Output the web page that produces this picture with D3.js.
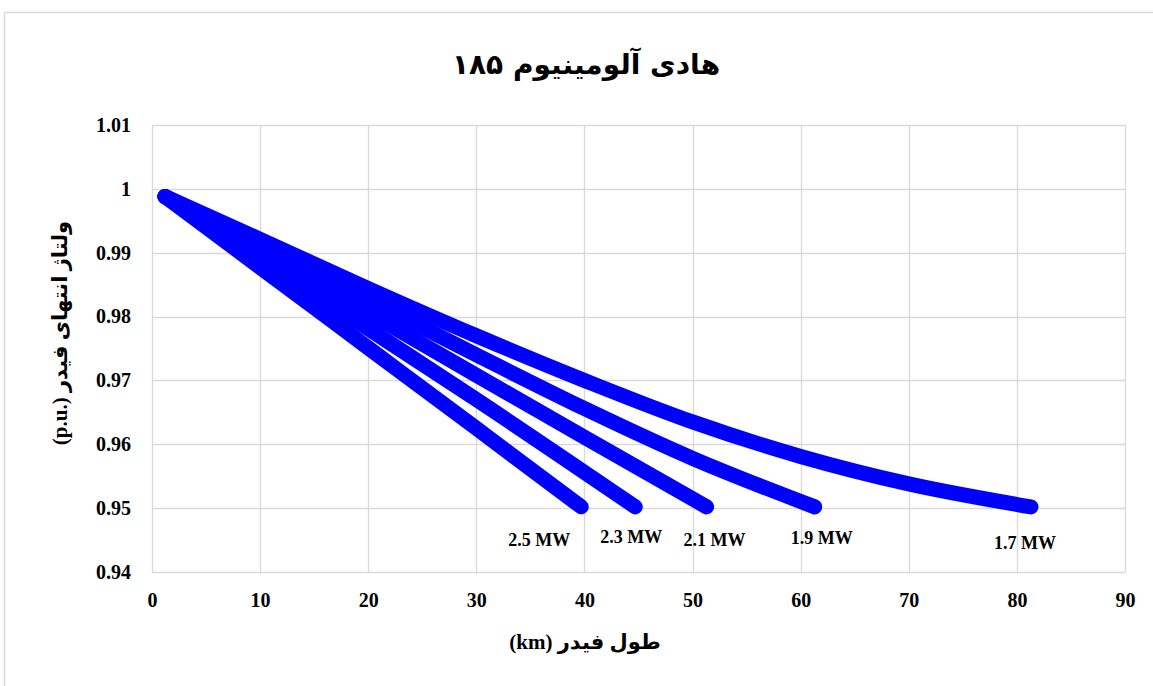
<!DOCTYPE html>
<html>
<head>
<meta charset="utf-8">
<script src="https://cdn.jsdelivr.net/npm/d3@7"></script>
<style>
  html, body { margin: 0; padding: 0; background: #fff; }
  svg { display: block; }
</style>
</head>
<body>
<svg id="chart" width="1153" height="686"></svg>
<script>
// Feeder length (km) and feeder-end voltage (p.u.) for each load level
const seriesNames = ["1.7 MW", "1.9 MW", "2.1 MW", "2.3 MW", "2.5 MW"];
const len17 = [1.2, 10, 20, 30, 40, 50, 60, 70, 81.3];
const volt17 = [0.9988, 0.9921, 0.9844, 0.9770, 0.9700, 0.9635, 0.9581, 0.9538, 0.9502];
const len19 = [1.2, 10, 20, 30, 40, 50, 61.3];
const volt19 = [0.9988, 0.9913, 0.9826, 0.9740, 0.9656, 0.9578, 0.9502];
const len21 = [1.2, 10, 20, 30, 40, 51.3];
const volt21 = [0.9988, 0.9904, 0.9806, 0.9708, 0.9611, 0.9502];
const len23 = [1.2, 10, 20, 30, 44.7];
const volt23 = [0.9988, 0.9891, 0.9781, 0.9670, 0.9502];
const len25 = [1.2, 10, 20, 30, 39.7];
const volt25 = [0.9988, 0.9877, 0.9751, 0.9625, 0.9502];

const xTicks = [0, 10, 20, 30, 40, 50, 60, 70, 80, 90];
const yTicks = [0.94, 0.95, 0.96, 0.97, 0.98, 0.99, 1.00, 1.01];

const titleText = "هادی آلومینیوم ۱۸۵";
const xTitle = "طول فیدر (km)";
const yTitle = "ولتاژ انتهای فیدر (p.u.\u200E)";

const series = [
  { name: seriesNames[0], x: len17, y: volt17 },
  { name: seriesNames[1], x: len19, y: volt19 },
  { name: seriesNames[2], x: len21, y: volt21 },
  { name: seriesNames[3], x: len23, y: volt23 },
  { name: seriesNames[4], x: len25, y: volt25 }
];

// label placement relative to each curve's last point (px)
const labelShift = {
  "1.7 MW": [-6, 36],
  "1.9 MW": [7, 31],
  "2.1 MW": [8, 33],
  "2.3 MW": [-4, 30],
  "2.5 MW": [-42, 33]
};

const svg = d3.select("#chart");
const W = 1153, H = 686;
const plot = { left: 152, right: 1125, top: 125, bottom: 572 };

const serif = "'Liberation Serif', 'Times New Roman', 'DejaVu Sans', serif";

// outer chart frame
svg.append("rect")
  .attr("x", 4.5).attr("y", 12.5)
  .attr("width", W + 10).attr("height", H + 10)
  .attr("fill", "#fff")
  .attr("stroke", "#d9d9d9").attr("stroke-width", 1.5);

const x = d3.scaleLinear().domain([0, 90]).range([plot.left, plot.right]);
const y = d3.scaleLinear().domain([0.94, 1.01]).range([plot.bottom, plot.top]);

// gridlines
const grid = svg.append("g").attr("class", "grid");
grid.selectAll("line.v").data(xTicks).join("line")
  .attr("class", "v")
  .attr("x1", d => Math.round(x(d)) + 0.5).attr("x2", d => Math.round(x(d)) + 0.5)
  .attr("y1", plot.top).attr("y2", plot.bottom)
  .attr("stroke", "#d9d9d9").attr("stroke-width", 1.3);
grid.selectAll("line.h").data(yTicks).join("line")
  .attr("class", "h")
  .attr("x1", plot.left).attr("x2", plot.right)
  .attr("y1", d => Math.round(y(d)) + 0.5).attr("y2", d => Math.round(y(d)) + 0.5)
  .attr("stroke", "#d9d9d9").attr("stroke-width", 1.3);

// axes (labels only)
const fmtY = d => String(+d.toFixed(2));
const yAxis = d3.axisLeft(y).tickValues(yTicks).tickFormat(fmtY).tickSize(0).tickPadding(21);
const xAxis = d3.axisBottom(x).tickValues(xTicks).tickFormat(d3.format("d")).tickSize(0).tickPadding(21);

const gy = svg.append("g").attr("transform", `translate(${plot.left},0)`).call(yAxis);
const gx = svg.append("g").attr("transform", `translate(0,${plot.bottom})`).call(xAxis);
[gx, gy].forEach(g => {
  g.select(".domain").remove();
  g.selectAll("text")
    .attr("font-family", serif)
    .attr("font-weight", "bold")
    .attr("font-size", 20)
    .attr("fill", "#000");
});

// curves
const line = d3.line()
  .x(d => x(d[0]))
  .y(d => y(d[1]))
  .curve(d3.curveMonotoneX);

const curves = svg.append("g");
series.forEach(s => {
  const pts = s.x.map((v, i) => [v, s.y[i]]);
  curves.append("path")
    .attr("d", line(pts))
    .attr("fill", "none")
    .attr("stroke", "#0000ff")
    .attr("stroke-width", 15)
    .attr("stroke-linecap", "round")
    .attr("stroke-linejoin", "round");
});

// series labels
series.forEach(s => {
  const n = s.x.length - 1;
  const [dx, dy] = labelShift[s.name];
  svg.append("text")
    .attr("x", x(s.x[n]) + dx)
    .attr("y", y(s.y[n]) + dy)
    .attr("dy", "0.35em")
    .attr("text-anchor", "middle")
    .attr("font-family", serif)
    .attr("font-weight", "bold")
    .attr("font-size", 18)
    .attr("fill", "#000")
    .text(s.name);
});

// title and axis titles (right-to-left text)
svg.append("text")
  .attr("x", 586).attr("y", 64)
  .attr("dy", "0.35em")
  .attr("text-anchor", "middle")
  .attr("direction", "rtl")
  .style("unicode-bidi", "embed")
  .attr("font-family", "'DejaVu Sans', sans-serif")
  .attr("font-weight", "bold")
  .attr("font-size", 28)
  .attr("fill", "#000")
  .text(titleText);

svg.append("text")
  .attr("x", 585).attr("y", 642)
  .attr("dy", "0.35em")
  .attr("text-anchor", "middle")
  .attr("direction", "rtl")
  .style("unicode-bidi", "embed")
  .attr("font-family", serif)
  .attr("font-weight", "bold")
  .attr("font-size", 21)
  .attr("fill", "#000")
  .text(xTitle);

svg.append("text")
  .attr("transform", "translate(60,333) rotate(-90)")
  .attr("dy", "0.35em")
  .attr("text-anchor", "middle")
  .attr("direction", "rtl")
  .style("unicode-bidi", "embed")
  .attr("font-family", serif)
  .attr("font-weight", "bold")
  .attr("font-size", 21)
  .attr("fill", "#000")
  .text(yTitle);
</script>
</body>
</html>
